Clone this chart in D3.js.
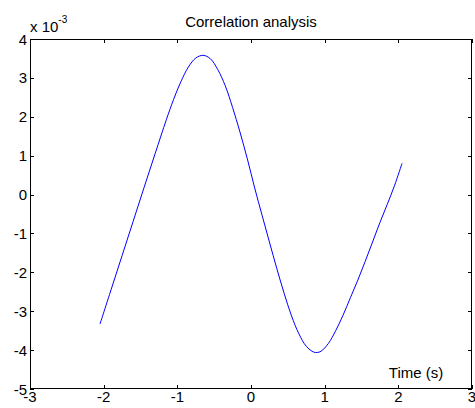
<!DOCTYPE html>
<html><head><meta charset="utf-8">
<script src="https://cdn.jsdelivr.net/npm/d3@7"></script>
<style>body{margin:0;background:#fff}svg{display:block}</style>
</head><body><svg id="c" width="475" height="408"></svg>
<script>
const xTicks = [-3,-2,-1,0,1,2,3];
const yTicks = [-5,-4,-3,-2,-1,0,1,2,3,4];
const timeS = [-2.05,-1.90,-1.75,-1.60,-1.45,-1.30,-1.15,-1.05,-0.95,-0.85,-0.75,-0.65,-0.55,-0.45,-0.35,-0.25,-0.15,-0.05,0.05,0.15,0.25,0.35,0.45,0.55,0.65,0.75,0.85,0.90,0.95,1.05,1.15,1.25,1.35,1.45,1.55,1.65,1.75,1.85,1.95,2.05];
const corrE3 = [-3.33,-2.45,-1.57,-0.69,0.19,1.06,1.92,2.45,2.91,3.28,3.51,3.58,3.49,3.21,2.80,2.24,1.61,0.92,0.17,-0.53,-1.22,-1.90,-2.54,-3.12,-3.58,-3.90,-4.05,-4.06,-4.03,-3.83,-3.50,-3.10,-2.65,-2.20,-1.72,-1.22,-0.72,-0.25,0.24,0.80];

const svg = d3.select("#c");
const L=30, R=472, T=39, B=389;
const x = d3.scaleLinear().domain([-3,3]).range([L,R]);
const y = d3.scaleLinear().domain([-5,4]).range([B,T]);
const font = "Liberation Sans, Arial, sans-serif";

const g = svg.append("g").attr("font-family", font).attr("font-size", 15);

g.append("rect").attr("x",L+0.5).attr("y",T+0.5).attr("width",R-L-1).attr("height",B-T-1)
 .attr("fill","none").attr("stroke","#000").attr("stroke-width",1);

const tl=4;
xTicks.forEach(v=>{
  const px=Math.round(x(v))+0.5;
  g.append("line").attr("x1",px).attr("x2",px).attr("y1",B).attr("y2",B-tl).attr("stroke","#000");
  g.append("line").attr("x1",px).attr("x2",px).attr("y1",T).attr("y2",T+tl).attr("stroke","#000");
  g.append("text").attr("x",x(v)).attr("y",402).attr("text-anchor","middle").text(v);
});
yTicks.forEach(v=>{
  const py=Math.round(y(v))+0.5;
  g.append("line").attr("x1",L).attr("x2",L+tl).attr("y1",py).attr("y2",py).attr("stroke","#000");
  g.append("line").attr("x1",R).attr("x2",R-tl).attr("y1",py).attr("y2",py).attr("stroke","#000");
  g.append("text").attr("x",27).attr("y",y(v)+5.5).attr("text-anchor","end").text(v);
});

const ex = g.append("text").attr("x",30).attr("y",32);
ex.append("tspan").text("x 10");
ex.append("tspan").attr("font-size",10).attr("dy",-9).text("-3");

g.append("text").attr("x",(L+R)/2).attr("y",27).attr("text-anchor","middle").text("Correlation analysis");
g.append("text").attr("x",416).attr("y",378).attr("text-anchor","middle").text("Time (s)");

const data = timeS.map((t,i)=>[t,corrE3[i]]);
g.append("path").datum(data)
 .attr("d", d3.line().x(d=>x(d[0])).y(d=>y(d[1])).curve(d3.curveCatmullRom))
 .attr("fill","none").attr("stroke","#0000ff").attr("stroke-width",1);
</script></body></html>
